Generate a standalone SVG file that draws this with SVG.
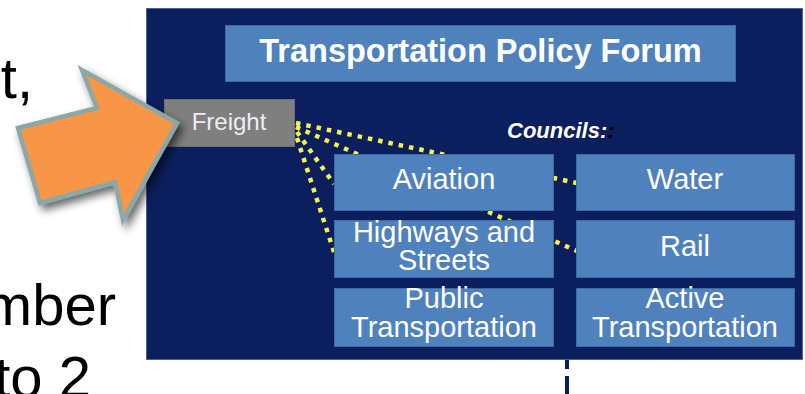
<svg xmlns="http://www.w3.org/2000/svg" width="805" height="394" viewBox="0 0 805 394">
  <style>
    .bg { fill: #ffffff; }
    .panel { fill: #0b1f5e; stroke: #4a6398; stroke-width: 1; }
    .box { fill: #4f81bd; stroke: #3d6aa3; stroke-width: 1; }
    .gbox { fill: #7f7f7f; stroke: #6e6e6e; stroke-width: 1; }
    .big { font-family: "Liberation Sans", Arial, sans-serif; font-size: 58px; fill: #000000; }
    .title { font-family: "Liberation Sans", Arial, sans-serif; font-size: 32.5px; font-weight: bold; fill: #ffffff; text-anchor: middle; }
    .lbl { font-family: "Liberation Sans", Arial, sans-serif; font-size: 29px; fill: #ffffff; text-anchor: middle; }
    .frt { font-family: "Liberation Sans", Arial, sans-serif; font-size: 24px; fill: #eeeeee; text-anchor: middle; }
    .cnc { font-family: "Liberation Sans", Arial, sans-serif; font-size: 22px; font-weight: bold; font-style: italic; fill: #ffffff; }
    .dot { fill: none; stroke: #f6f24a; stroke-width: 4.5; stroke-dasharray: 4.5 6; }
    .arrow { fill: #f79646; stroke: #8ba7a7; stroke-width: 4.5; stroke-linejoin: miter; }
  </style>
  <defs>
    <filter id="shadow" x="-30%" y="-30%" width="160%" height="160%">
      <feGaussianBlur in="SourceAlpha" stdDeviation="4.5"/>
      <feOffset dx="4" dy="5" result="b"/>
      <feComponentTransfer><feFuncA type="linear" slope="0.6"/></feComponentTransfer>
      <feMerge><feMergeNode/><feMergeNode in="SourceGraphic"/></feMerge>
    </filter>
  </defs>
  <rect class="bg" x="0" y="0" width="805" height="394"/>

  <g id="slide-text">
    <text class="big" x="33" y="98" text-anchor="end">t,</text>
    <text class="big" x="116" y="325" text-anchor="end">mber</text>
    <text class="big" x="91" y="397" text-anchor="end">to 2</text>
  </g>

  <g id="panel">
    <rect class="panel" x="146.5" y="8.5" width="656" height="351"/>
    <rect x="565" y="360" width="4" height="9" fill="#0b1f5e"/>
    <rect x="565" y="376" width="4" height="18" fill="#0b1f5e"/>
  </g>

  <g id="connectors">
    <line class="dot" x1="296" y1="123" x2="577" y2="183"/>
    <line class="dot" x1="296" y1="127" x2="577" y2="251"/>
    <line class="dot" x1="297" y1="132" x2="334" y2="184"/>
    <line class="dot" x1="297" y1="138" x2="334" y2="252"/>
  </g>

  <g id="forum">
    <rect class="box" x="225.5" y="25.5" width="510" height="56"/>
    <text class="title" x="480.5" y="62">Transportation Policy Forum</text>
  </g>

  <g id="councils-label">
    <text class="cnc" x="507" y="138">Councils:<tspan fill="#000000">:</tspan></text>
  </g>

  <g id="aviation">
    <rect class="box" x="334.5" y="154.5" width="219" height="56"/>
    <text class="lbl" x="444" y="189">Aviation</text>
  </g>
  <g id="water">
    <rect class="box" x="576.5" y="154.5" width="218" height="56"/>
    <text class="lbl" x="685" y="189">Water</text>
  </g>
  <g id="highways">
    <rect class="box" x="334.5" y="220.5" width="219" height="57"/>
    <text class="lbl" x="444" y="242">Highways and</text>
    <text class="lbl" x="444" y="270">Streets</text>
  </g>
  <g id="rail">
    <rect class="box" x="576.5" y="220.5" width="218" height="57"/>
    <text class="lbl" x="685" y="256">Rail</text>
  </g>
  <g id="public">
    <rect class="box" x="334.5" y="288.5" width="219" height="58"/>
    <text class="lbl" x="444" y="308">Public</text>
    <text class="lbl" x="444" y="337">Transportation</text>
  </g>
  <g id="active">
    <rect class="box" x="576.5" y="288.5" width="218" height="58"/>
    <text class="lbl" x="685" y="308">Active</text>
    <text class="lbl" x="685" y="337">Transportation</text>
  </g>

  <g id="freight">
    <rect class="gbox" x="164.5" y="99.5" width="130" height="47"/>
    <text class="frt" x="229" y="130">Freight</text>
  </g>

  <g id="arrow">
    <polygon class="arrow" filter="url(#shadow)" points="18,128 97,108 82,70 177,123 123,220 115,182 40,203"/>
  </g>
</svg>
